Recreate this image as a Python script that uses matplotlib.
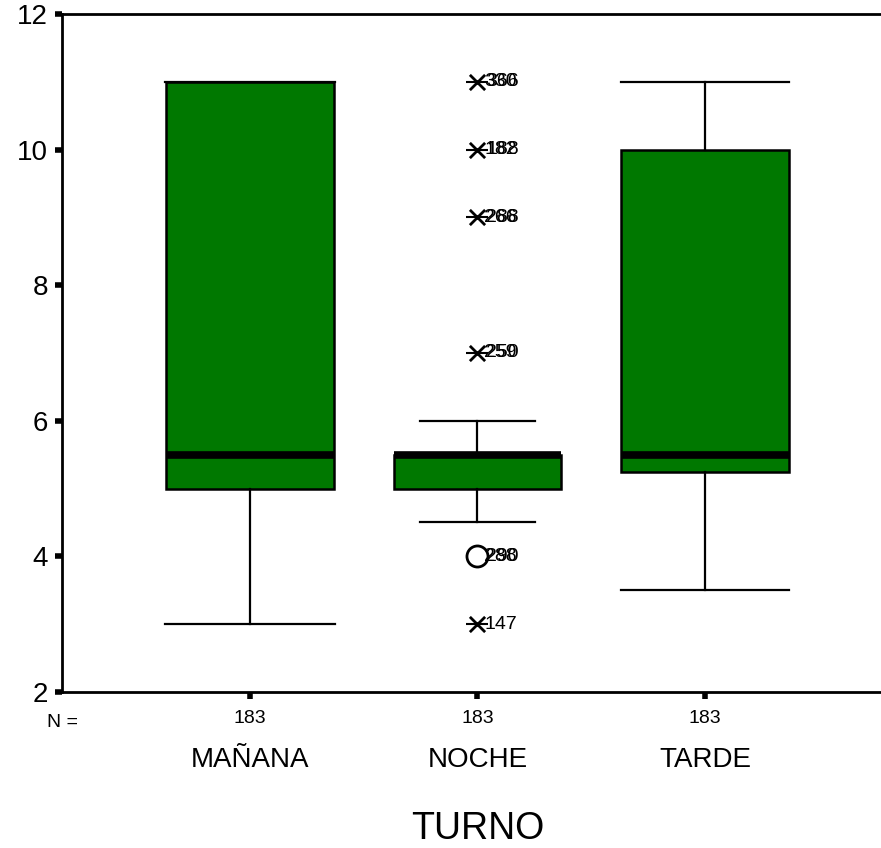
import matplotlib
matplotlib.use("Agg")
import matplotlib.pyplot as plt

plt.rcParams['font.family'] = ['Liberation Sans', 'DejaVu Sans']

# Data
turnos = ['MAÑANA', 'NOCHE', 'TARDE']
n_casos = [183, 183, 183]
whis_lo = [3.0, 4.5, 3.5]
q1 = [5.0, 5.0, 5.25]
mediana = [5.5, 5.5, 5.5]
q3 = [11.0, 5.5, 10.0]
whis_hi = [11.0, 6.0, 11.0]

# NOCHE outliers (o) and extremes (*) with their case labels
atipicos_y = [4.0]
atipicos_lab = [['288', '290']]
extremos_y = [3.0, 7.0, 9.0, 10.0, 11.0]
extremos_lab = [['147'], ['259', '250'], ['266', '288'],
                ['182', '188'], ['330', '366']]

stats = []
for i, t in enumerate(turnos):
    stats.append(dict(label=t, whislo=whis_lo[i], q1=q1[i], med=mediana[i],
                      q3=q3[i], whishi=whis_hi[i], fliers=[]))

fig = plt.figure(figsize=(8.81, 8.48), dpi=100)
ax = fig.add_axes([0.0704, 0.184, 0.9286, 0.7995])

pos = [1, 2, 3]
ax.bxp(stats, positions=pos, widths=0.735, capwidths=[0.75, 0.505, 0.735],
       patch_artist=True, showfliers=False, manage_ticks=False,
       boxprops=dict(facecolor='#007800', edgecolor='black', linewidth=1.8),
       whiskerprops=dict(color='black', linewidth=1.6),
       capprops=dict(color='black', linewidth=1.6),
       medianprops=dict(color='black', linewidth=5.5, solid_capstyle='butt'))

# NOCHE fliers
x2 = pos[1]
ax.scatter([x2] * len(atipicos_y), atipicos_y, s=230, marker='o',
           facecolors='white', edgecolors='black', linewidths=2, zorder=5)
ax.scatter([x2] * len(extremos_y), extremos_y, s=120, marker='x',
           color='black', linewidths=2, zorder=5)
ax.scatter([x2] * len(extremos_y), extremos_y, s=240, marker='_',
           color='black', linewidths=1.5, zorder=5)
for y, labs in zip(atipicos_y + extremos_y, atipicos_lab + extremos_lab):
    for k, lab in enumerate(labs):
        ax.text(x2 + 0.03 + 0.008 * k, y, lab, fontsize=14, va='center',
                ha='left', color='black', zorder=6)

ax.set_xlim(0.174, 3.77)
ax.set_ylim(2, 12)
ax.set_yticks([2, 4, 6, 8, 10, 12])
ax.set_xticks(pos)
ax.set_xticklabels([str(n) for n in n_casos], fontsize=14)
ax.tick_params(axis='both', direction='out', length=5, width=4, color='black')
ax.tick_params(axis='y', labelsize=20, pad=5)
ax.tick_params(axis='x', pad=8)
for s in ['left', 'bottom', 'top']:
    ax.spines[s].set_linewidth(2)
ax.spines['right'].set_visible(False)

ax.text(0.0, -0.045, 'N =', transform=ax.transAxes, fontsize=14,
        ha='center', va='center')
for p, t in zip(pos, turnos):
    ax.text(p, -0.1, t, transform=ax.get_xaxis_transform(), fontsize=20,
            ha='center', va='center')
ax.text(x2, -0.202, 'TURNO', transform=ax.get_xaxis_transform(), fontsize=27,
        ha='center', va='center')

fig.savefig('out.png', dpi=100)
